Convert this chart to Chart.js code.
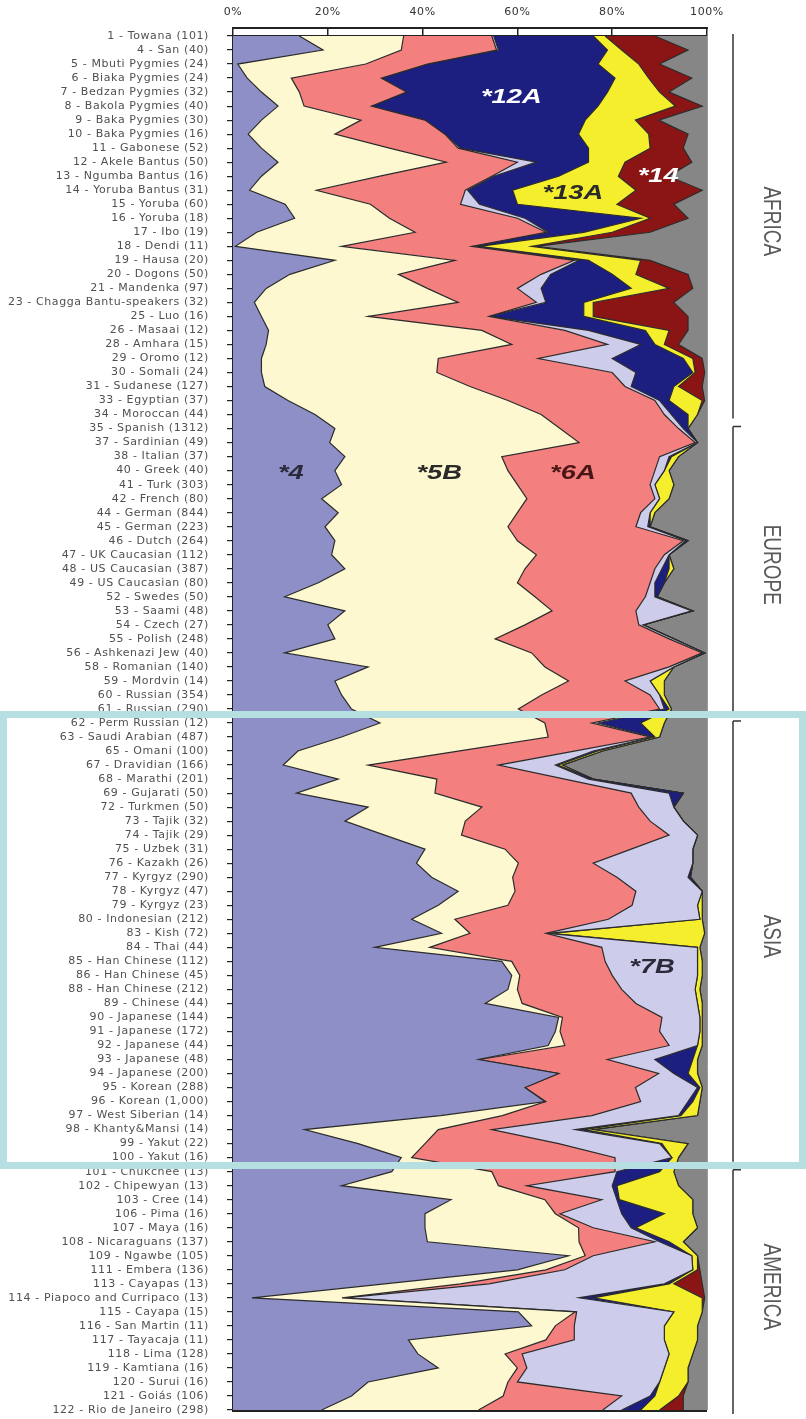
<!DOCTYPE html>
<html>
<head>
<meta charset="utf-8">
<script src="https://cdn.jsdelivr.net/npm/chart.js@4/dist/chart.umd.min.js"></script>
<style>
html,body{margin:0;padding:0;background:#fff;}
#wrap{position:relative;width:806px;height:1419px;overflow:hidden;}
#c{position:absolute;left:0;top:0;}
#hl{position:absolute;left:0;top:711px;width:806px;height:458px;border:7px solid #b5dfe1;box-sizing:border-box;pointer-events:none;}
</style>
</head>
<body>
<div id="wrap">
<canvas id="c" width="806" height="1419"></canvas>
<div id="hl"></div>
</div>
<script>
const populations = [
"1 - Towana (101)","4 - San (40)","5 - Mbuti Pygmies (24)","6 - Biaka Pygmies (24)","7 - Bedzan Pygmies (32)",
"8 - Bakola Pygmies (40)","9 - Baka Pygmies (30)","10 - Baka Pygmies (16)","11 - Gabonese (52)","12 - Akele Bantus (50)",
"13 - Ngumba Bantus (16)","14 - Yoruba Bantus (31)","15 - Yoruba (60)","16 - Yoruba (18)","17 - Ibo (19)",
"18 - Dendi (11)","19 - Hausa (20)","20 - Dogons (50)","21 - Mandenka (97)","23 - Chagga Bantu-speakers (32)",
"25 - Luo (16)","26 - Masaai (12)","28 - Amhara (15)","29 - Oromo (12)","30 - Somali (24)",
"31 - Sudanese (127)","33 - Egyptian (37)","34 - Moroccan (44)","35 - Spanish (1312)","37 - Sardinian (49)",
"38 - Italian (37)","40 - Greek (40)","41 - Turk (303)","42 - French (80)","44 - German (844)",
"45 - German (223)","46 - Dutch (264)","47 - UK Caucasian (112)","48 - US Caucasian (387)","49 - US Caucasian (80)",
"52 - Swedes (50)","53 - Saami (48)","54 - Czech (27)","55 - Polish (248)","56 - Ashkenazi Jew (40)",
"58 - Romanian (140)","59 - Mordvin (14)","60 - Russian (354)","61 - Russian (290)","62 - Perm Russian (12)",
"63 - Saudi Arabian (487)","65 - Omani (100)","67 - Dravidian (166)","68 - Marathi (201)","69 - Gujarati (50)",
"72 - Turkmen (50)","73 - Tajik (32)","74 - Tajik (29)","75 - Uzbek (31)","76 - Kazakh (26)",
"77 - Kyrgyz (290)","78 - Kyrgyz (47)","79 - Kyrgyz (23)","80 - Indonesian (212)","83 - Kish (72)",
"84 - Thai (44)","85 - Han Chinese (112)","86 - Han Chinese (45)","88 - Han Chinese (212)","89 - Chinese (44)",
"90 - Japanese (144)","91 - Japanese (172)","92 - Japanese (44)","93 - Japanese (48)","94 - Japanese (200)",
"95 - Korean (288)","96 - Korean (1,000)","97 - West Siberian (14)","98 - Khanty&Mansi (14)","99 - Yakut (22)",
"100 - Yakut (16)","101 - Chukchee (13)","102 - Chipewyan (13)","103 - Cree (14)","106 - Pima (16)",
"107 - Maya (16)","108 - Nicaraguans (137)","109 - Ngawbe (105)","111 - Embera (136)","113 - Cayapas (13)",
"114 - Piapoco and Curripaco (13)","115 - Cayapa (15)","116 - San Martin (11)","117 - Tayacaja (11)","118 - Lima (128)",
"119 - Kamtiana (16)","120 - Surui (16)","121 - Goiás (106)","122 - Rio de Janeiro (298)"
];

const hla4 = [
14,19,1,3,6,9.5,6,3.2,6,9.5,
6,3.5,11,13,5,0.5,21.5,12,7,4.5,
6,7.5,7,6,6,6.7,11.6,17.3,21.5,20.4,
23.6,21.5,22.9,18.7,22.2,19.4,21.5,20.8,23.6,18,
10.9,23.6,20,21.5,10.9,28.5,21.5,22.9,25,31,
22.9,13.7,10.6,22.2,13.4,28.5,23.6,32,40.5,38.7,
41.9,47.5,43.3,37.7,44,29.9,56.7,58.8,58,53.2,
68.7,68,66.5,51.8,68.7,61.6,65.8,43.8,15.1,26.4,
35.5,33.5,22.9,46,40.5,40.5,41,70.8,60,32,
4,60.2,63,37,39,43.3,28.5,25,18.7];

const hla5B = [
22,16.5,27,9.3,8,5.5,21,18.3,27,35.5,
25,14.1,18,20,33.4,22.4,25.3,22.9,34,43,
22.5,45,51.8,37.3,37,43.3,46.4,47.7,47.5,52.6,
33.1,36.5,37.1,43.3,37.8,38.6,38.5,43.2,38,42,
52.8,43.7,41.6,33.8,52.1,37.3,49.3,42.2,35.2,34.8,
43.6,33.8,17.9,20.8,29.2,24,25.4,16.2,16.9,21.5,
17.1,12,14.7,9.1,6,11.6,2.1,1.7,2,7.8,
0.8,1,3.5,0.2,0,0,0.2,13,28.2,14.1,
2.2,21.1,33.1,19.8,27.5,32.4,32,3.5,6,16,
19,12,5,29,18.4,16.7,29.5,32,33.1];

const hla6A = [
18.6,20.1,13,19,22.6,14.2,13.5,23.2,14.5,15,
23.6,31.4,19,27,27.6,27.5,25.2,30.1,19,16.5,
25.5,17.5,20.2,21.1,37,32.7,31,26,25,24.5,
33.3,31,28,27,26,27,35,27,27.4,28,
23.3,17.7,24,36.7,36,26.2,11.9,22.9,29.8,9.9,
21.5,24.5,27.5,27,41.4,33.1,39,43.8,26.6,15.8,
22,25.5,26.2,32.4,16,36.3,19.7,19.5,22,24,
21,21,22,27,21.1,23.3,20,18.9,11.3,28.2,
42.9,26,6,12,1,3.1,16,1.7,4,6,
0.5,0.3,4,6,3.6,2,2,25,26.2];

const hla7B = [
0.4,0.4,0,0,0,0,0,0,0.5,4,
0.4,0.5,4,1.6,0.5,0,1,2,5,2,
0,5,7,15.6,5,1.3,1,1.5,1,0.5,
2,2,1,1,2,2.5,0.5,1,1.5,1,
2,11.8,0.9,1,0.5,1,5.3,2,1,1.3,
0.5,4,12,5,8,7.4,7,6,13,21,
15,14,13.8,19.3,0.5,20.2,19.5,18,15.5,13,
8,8.5,6,10,3.2,13.1,10,18.3,17.6,21.3,
12,0.4,18,3.2,13,8,1,20.8,27,37,
49.5,20.5,19,19,31,29,30,6,4];

const hla12A = [
21,23,36,49.3,42.4,47.8,33.8,28.2,27,11,
13.7,9.5,8,24.4,7.5,1.6,2,13,19,8,
20,12,3,15,12,9,2,3.5,1,0,
0.5,0,0,0,0,0.5,0.5,0,1.5,2,
0.5,0.2,0,0,0,0,0,0,1,9,
0.5,1,0.5,1,3,0,0,0,0,0,
0.5,0,0,0,0.5,0,0,0,0,0,
0,0,0,8,3,0.5,1,0.5,1.8,0.5,
0,9,1,0.5,9,1,2,0,0,1,
3,0,0,0,0,0,0,1,4];

const hla13A = [
2.5,3,8.6,7.1,11,16.3,10.6,14.8,13,7.7,
12.6,26,21,2,6,11,11,5,8,2,
2,5,2,2,0.5,1,7,2,0,0,
1.5,1,4,2,1,0,0,0,1,0,
0,0,0,0,0,0,3,1,0.5,5,
1,1,1,0,0,0,0,0,0,0,
0,0,1,0.5,32.5,0.5,1,1,1,1,
0.5,0.5,1,1,2,0.5,1.5,3.5,2,5.5,
1.4,3,13,15.5,6,13,3,1.2,1,1,
23,6,7,7,5,5,6,5,4];

const hla14 = [
10.5,14,4.4,9.1,2,5.7,4.9,8.3,7,14.1,
10.6,14,12,8,8,1,2,11,5,17,
20,4,3,2,2,5,0.5,0,0,0,
0,0,0,0,0,0,0,0,0,0,
0,0,0,0,0,0,0,0,0,0,
0,0,0,0,0,0,0,0,0,0,
0,0,0,0,0,0,0,0,0,0,
0,0,0,0,0,0,0,0,0,0,
0,0,0,0,0,0,0,0,0.5,6,
0.5,0,0,0,0,0,0,1,5];

const other = [
11,4,10,3.2,8,1,10.2,4,5,3.2,
8.1,1,7,4,12,36,12,4,3,7,
4,4,6,1,0.5,1,0.5,2,4,2,
6,8,7,8,11,12,4,8,7,9,
10.5,3,13.5,7,0.5,7,9,9,7.5,9,
10,22,30.5,24,5,7,5,2,3,3,
3.5,1,1,1,0.5,1.5,1,1,1.5,1,
1,1,1,2,2,1,1.5,2,24,4,
6,7,6,3,3,2,5,2,1.5,1,
0.5,1,2,2,3,4,4,5,5];

const xTickValues = [0, 20, 40, 60, 80, 100];
const regionNames = ["AFRICA", "EUROPE", "ASIA", "AMERICA"];
const regionFirstRow = [0, 28, 49, 81];
const regionLastRow = [27, 48, 80, 98];
const lineageLabels = ["*12A", "*13A", "*14", "*4", "*5B", "*6A", "*7B"];
const lineageLabelX = [58.7, 71.7, 89.7, 12.2, 43.5, 71.7, 88.4];
const lineageLabelRow = [4.4, 11.2, 10, 31.2, 31.2, 31.2, 66.4];
const lineageLabelColor = ["#ffffff", "#2a2a2a", "#ffffff", "#2a2a3a", "#2a2a2a", "#4a1515", "#2a2a3a"];

const series = [
  {label: "*4",   data: hla4,   color: "#8e8fc6"},
  {label: "*5B",  data: hla5B,  color: "#fdf8cf"},
  {label: "*6A",  data: hla6A,  color: "#f37f7f"},
  {label: "*7B",  data: hla7B,  color: "#cdcdeb"},
  {label: "*12A", data: hla12A, color: "#1c1f80"},
  {label: "*13A", data: hla13A, color: "#f5ee2c"},
  {label: "*14",  data: hla14,  color: "#8b1515"},
  {label: "other", data: other, color: "#868686"}
];

const decorPlugin = {
  id: "decor",
  beforeDraw(chart) {
    chart.ctx.letterSpacing = "0.6px";
  },
  afterDraw(chart) {
    const ctx = chart.ctx;
    const xs = chart.scales.x, ys = chart.scales.y;
    const ca = chart.chartArea;
    ctx.save();
    ctx.letterSpacing = "0px";
    ctx.strokeStyle = "#222";
    ctx.lineWidth = 2;
    ctx.beginPath();
    ctx.moveTo(ca.left - 1, ca.top - 8);
    ctx.lineTo(ca.right + 1, ca.top - 8);
    ctx.stroke();
    ctx.beginPath();
    ctx.moveTo(ca.left - 1, ca.bottom + 1);
    ctx.lineTo(ca.right, ca.bottom + 1);
    ctx.stroke();
    ctx.strokeStyle = "#9a9a9a";
    ctx.lineWidth = 1;
    ctx.beginPath();
    ctx.moveTo(ca.right + 0.5, ca.top);
    ctx.lineTo(ca.right + 0.5, ca.bottom);
    ctx.stroke();
    for (let i = 0; i < lineageLabels.length; i++) {
      const px = xs.getPixelForValue(lineageLabelX[i]);
      const py = ys.getPixelForValue(lineageLabelRow[i]);
      ctx.save();
      ctx.translate(px, py);
      ctx.scale(1.3, 1);
      ctx.font = "italic bold 21px 'Liberation Sans', Arial, sans-serif";
      ctx.fillStyle = lineageLabelColor[i];
      ctx.textAlign = "center";
      ctx.textBaseline = "middle";
      ctx.fillText(lineageLabels[i], 0, 0);
      ctx.restore();
    }
    for (let i = 0; i < regionNames.length; i++) {
      const y0 = ys.getPixelForValue(regionFirstRow[i]) - 2;
      const y1 = ys.getPixelForValue(regionLastRow[i]) + 4;
      ctx.strokeStyle = "#333";
      ctx.lineWidth = 1.5;
      ctx.beginPath();
      ctx.moveTo(733, y0);
      ctx.lineTo(733, y1);
      if (i > 0) { ctx.moveTo(733, y0); ctx.lineTo(741, y0); }
      ctx.stroke();
      ctx.save();
      ctx.translate(771, (y0 + y1) / 2 - 5);
      ctx.rotate(Math.PI / 2);
      ctx.scale(1, 1.3);
      ctx.font = "19px 'Liberation Sans', Arial, sans-serif";
      ctx.fillStyle = "#5a5a5a";
      ctx.textAlign = "center";
      ctx.textBaseline = "middle";
      ctx.fillText(regionNames[i], 0, 0);
      ctx.restore();
    }
    ctx.restore();
  }
};

new Chart(document.getElementById("c"), {
  type: "line",
  data: {
    labels: populations,
    datasets: series.map((s, i) => ({
      label: s.label,
      data: s.data,
      backgroundColor: s.color,
      borderColor: i === series.length - 1 ? "rgba(0,0,0,0)" : "#2b2b2b",
      borderWidth: 1.2,
      fill: i === 0 ? "origin" : "-1",
      pointRadius: 0,
      pointHoverRadius: 0,
      tension: 0
    }))
  },
  options: {
    indexAxis: "y",
    responsive: false,
    animation: false,
    devicePixelRatio: 1,
    layout: {padding: {top: 0, right: 99, bottom: 9, left: 0}},
    plugins: {legend: {display: false}, tooltip: {enabled: false}},
    scales: {
      x: {
        type: "linear",
        position: "top",
        stacked: true,
        min: 0,
        max: 100,
        afterBuildTicks(scale) { scale.ticks = xTickValues.map(v => ({value: v})); },
        afterFit(scale) { scale.height = 36; scale.paddingLeft = 0; scale.paddingRight = 0; },
        ticks: {
          callback: v => v + "%",
          color: "#333",
          padding: 9,
          maxRotation: 0,
          font: {family: "'DejaVu Sans', sans-serif", size: 11}
        },
        grid: {drawOnChartArea: false, tickLength: 8, color: "#222", lineWidth: 1.5},
        border: {display: true, color: "#222", width: 2}
      },
      y: {
        type: "category",
        offset: false,
        afterFit(scale) { scale.width = 233; scale.paddingTop = 0; scale.paddingBottom = 0; },
        ticks: {
          autoSkip: false,
          color: "#505050",
          padding: 18,
          font: {family: "'DejaVu Sans', sans-serif", size: 11}
        },
        grid: {drawOnChartArea: false, tickLength: 6, color: "#222", lineWidth: 1.2},
        border: {display: true, color: "#222", width: 2.5}
      }
    }
  },
  plugins: [decorPlugin]
});
</script>
</body>
</html>
